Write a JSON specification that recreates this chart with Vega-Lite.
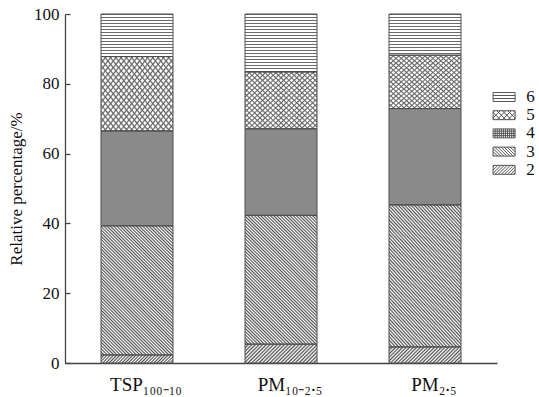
{
"$schema": "https://vega.github.io/schema/vega-lite/v6.json",
"width": 432, "height": 349,
"autosize": "none",
"padding": {"left": 65, "top": 14, "right": 42, "bottom": 34},
"background": "white",
"data": {"values": [
{"cat": "TSP₁₀₀₋₁₀", "series": "2", "value": 2.3},
{"cat": "TSP₁₀₀₋₁₀", "series": "3", "value": 37.0},
{"cat": "TSP₁₀₀₋₁₀", "series": "4", "value": 27.2},
{"cat": "TSP₁₀₀₋₁₀", "series": "5", "value": 21.3},
{"cat": "TSP₁₀₀₋₁₀", "series": "6", "value": 12.2},
{"cat": "PM₁₀₋₂.₅", "series": "2", "value": 5.4},
{"cat": "PM₁₀₋₂.₅", "series": "3", "value": 36.9},
{"cat": "PM₁₀₋₂.₅", "series": "4", "value": 24.8},
{"cat": "PM₁₀₋₂.₅", "series": "5", "value": 16.3},
{"cat": "PM₁₀₋₂.₅", "series": "6", "value": 16.6},
{"cat": "PM₂.₅", "series": "2", "value": 4.6},
{"cat": "PM₂.₅", "series": "3", "value": 40.7},
{"cat": "PM₂.₅", "series": "4", "value": 27.6},
{"cat": "PM₂.₅", "series": "5", "value": 15.3},
{"cat": "PM₂.₅", "series": "6", "value": 11.8}
]},
"transform": [{"stack": "value", "groupby": ["cat"], "sort": [{"field": "series", "order": "ascending"}], "as": ["y0", "y1"]}],
"encoding": {
"x": {"field": "cat", "type": "nominal", "sort": null, "scale": {"paddingInner": 0.5, "paddingOuter": 0.25},
 "axis": {"title": null, "labelAngle": 0, "ticks": false, "labelFontSize": 19, "labelPadding": 12, "labelOffset": 9, "domainWidth": 1.3}},
"y": {"field": "y1", "type": "quantitative", "scale": {"domain": [0, 100], "nice": false},
 "axis": {"title": "Relative percentage/%", "values": [0, 20, 40, 60, 80, 100], "tickSize": -5, "labelPadding": 11, "labelFontSize": 17, "titleFontSize": 17, "titleFontWeight": "normal", "titlePadding": 8, "domainWidth": 1.3, "tickWidth": 1.3}}
},
"layer": [
{"mark": {"type": "point", "filled": false, "size": 1, "color": "#555", "strokeWidth": 1},
 "encoding": {"y": {"field": "y0", "type": "quantitative"}, "shape": {"field": "series", "type": "nominal",
  "scale": {"domain": ["6", "5", "4", "3", "2"], "range": [
   "M-1.6,-0.65H1.6V0.65H-1.6ZM-1.6,-0.22H1.6M-1.6,0.22H1.6",
   "M-1.6,-0.65H1.6V0.65H-1.6ZM-1.6,0.4L-1.35,0.65M-1.6,-0.4L-0.55,0.65M-1.05,-0.65L0.25,0.65M-0.25,-0.65L1.05,0.65M0.55,-0.65L1.6,0.4M1.35,-0.65L1.6,-0.4M-1.6,-0.4L-1.35,-0.65M-1.6,0.4L-0.55,-0.65M-1.05,0.65L0.25,-0.65M-0.25,0.65L1.05,-0.65M0.55,0.65L1.6,-0.4M1.35,0.65L1.6,0.4",
   "M-1.6,-0.65H1.6V0.65H-1.6ZM-1.6,-0.325H1.6M-1.6,0H1.6M-1.6,0.325H1.6M-1.3,-0.65V0.65M-1,-0.65V0.65M-0.7,-0.65V0.65M-0.4,-0.65V0.65M-0.1,-0.65V0.65M0.2,-0.65V0.65M0.5,-0.65V0.65M0.8,-0.65V0.65M1.1,-0.65V0.65M1.4,-0.65V0.65",
   "M-1.6,-0.65H1.6V0.65H-1.6ZM-1.6,0.45L-1.4,0.65M-1.6,0L-0.95,0.65M-1.6,-0.45L-0.5,0.65M-1.35,-0.65L-0.05,0.65M-0.9,-0.65L0.4,0.65M-0.45,-0.65L0.85,0.65M0,-0.65L1.3,0.65M0.45,-0.65L1.6,0.5M0.9,-0.65L1.6,0.05M1.35,-0.65L1.6,-0.4",
   "M-1.6,-0.65H1.6V0.65H-1.6ZM-1.6,-0.4L-1.35,-0.65M-1.6,0.05L-0.9,-0.65M-1.6,0.5L-0.45,-0.65M-1.3,0.65L0,-0.65M-0.85,0.65L0.45,-0.65M-0.4,0.65L0.9,-0.65M0.05,0.65L1.35,-0.65M0.5,0.65L1.6,-0.45M0.95,0.65L1.6,0M1.4,0.65L1.6,0.45"
  ]},
  "legend": {"orient": "none", "legendX": 430.6, "legendY": 74.5, "title": null, "padding": 0,
   "symbolSize": 189, "symbolStrokeColor": "#555", "symbolStrokeWidth": 1, "symbolOpacity": 1,
   "labelFont": "Liberation Serif", "labelFontSize": 17, "labelColor": "#111", "labelOffset": 13.6, "rowPadding": 0.2}}}},
{"transform": [{"filter": "datum.series==='2'"}], "mark": {"type": "bar"},
 "encoding": {"y2": {"field": "y0"}, "fill": {"condition": [
  {"test": "datum.cat==='TSP₁₀₀₋₁₀'", "value": {"gradient": "linear", "x1": 0, "y1": 0, "x2": 1.0976, "y2": 0.122, "stops": [{"offset":0,"color":"#555"},{"offset":0.02,"color":"#fff"},{"offset":0.04,"color":"#555"},{"offset":0.06,"color":"#fff"},{"offset":0.08,"color":"#555"},{"offset":0.1,"color":"#fff"},{"offset":0.12,"color":"#555"},{"offset":0.14,"color":"#fff"},{"offset":0.16,"color":"#555"},{"offset":0.18,"color":"#fff"},{"offset":0.2,"color":"#555"},{"offset":0.22,"color":"#fff"},{"offset":0.24,"color":"#555"},{"offset":0.26,"color":"#fff"},{"offset":0.28,"color":"#555"},{"offset":0.3,"color":"#fff"},{"offset":0.32,"color":"#555"},{"offset":0.34,"color":"#fff"},{"offset":0.36,"color":"#555"},{"offset":0.38,"color":"#fff"},{"offset":0.4,"color":"#555"},{"offset":0.42,"color":"#fff"},{"offset":0.44,"color":"#555"},{"offset":0.46,"color":"#fff"},{"offset":0.48,"color":"#555"},{"offset":0.5,"color":"#fff"},{"offset":0.52,"color":"#555"},{"offset":0.54,"color":"#fff"},{"offset":0.56,"color":"#555"},{"offset":0.58,"color":"#fff"},{"offset":0.6,"color":"#555"},{"offset":0.62,"color":"#fff"},{"offset":0.64,"color":"#555"},{"offset":0.66,"color":"#fff"},{"offset":0.68,"color":"#555"},{"offset":0.7,"color":"#fff"},{"offset":0.72,"color":"#555"},{"offset":0.74,"color":"#fff"},{"offset":0.76,"color":"#555"},{"offset":0.78,"color":"#fff"},{"offset":0.8,"color":"#555"},{"offset":0.82,"color":"#fff"},{"offset":0.84,"color":"#555"},{"offset":0.86,"color":"#fff"},{"offset":0.88,"color":"#555"},{"offset":0.9,"color":"#fff"},{"offset":0.92,"color":"#555"},{"offset":0.94,"color":"#fff"},{"offset":0.96,"color":"#555"},{"offset":0.98,"color":"#fff"},{"offset":1,"color":"#555"}]}},
  {"test": "datum.cat==='PM₁₀₋₂.₅'", "value": {"gradient": "linear", "x1": 0, "y1": 0, "x2": 1.1806, "y2": 0.3083, "stops": [{"offset":0,"color":"#555"},{"offset":0.02,"color":"#fff"},{"offset":0.04,"color":"#555"},{"offset":0.06,"color":"#fff"},{"offset":0.08,"color":"#555"},{"offset":0.1,"color":"#fff"},{"offset":0.12,"color":"#555"},{"offset":0.14,"color":"#fff"},{"offset":0.16,"color":"#555"},{"offset":0.18,"color":"#fff"},{"offset":0.2,"color":"#555"},{"offset":0.22,"color":"#fff"},{"offset":0.24,"color":"#555"},{"offset":0.26,"color":"#fff"},{"offset":0.28,"color":"#555"},{"offset":0.3,"color":"#fff"},{"offset":0.32,"color":"#555"},{"offset":0.34,"color":"#fff"},{"offset":0.36,"color":"#555"},{"offset":0.38,"color":"#fff"},{"offset":0.4,"color":"#555"},{"offset":0.42,"color":"#fff"},{"offset":0.44,"color":"#555"},{"offset":0.46,"color":"#fff"},{"offset":0.48,"color":"#555"},{"offset":0.5,"color":"#fff"},{"offset":0.52,"color":"#555"},{"offset":0.54,"color":"#fff"},{"offset":0.56,"color":"#555"},{"offset":0.58,"color":"#fff"},{"offset":0.6,"color":"#555"},{"offset":0.62,"color":"#fff"},{"offset":0.64,"color":"#555"},{"offset":0.66,"color":"#fff"},{"offset":0.68,"color":"#555"},{"offset":0.7,"color":"#fff"},{"offset":0.72,"color":"#555"},{"offset":0.74,"color":"#fff"},{"offset":0.76,"color":"#555"},{"offset":0.78,"color":"#fff"},{"offset":0.8,"color":"#555"},{"offset":0.82,"color":"#fff"},{"offset":0.84,"color":"#555"},{"offset":0.86,"color":"#fff"},{"offset":0.88,"color":"#555"},{"offset":0.9,"color":"#fff"},{"offset":0.92,"color":"#555"},{"offset":0.94,"color":"#fff"},{"offset":0.96,"color":"#555"},{"offset":0.98,"color":"#fff"},{"offset":1,"color":"#555"}]}}],
  "value": {"gradient": "linear", "x1": 0, "y1": 0, "x2": 1.1653, "y2": 0.2606, "stops": [{"offset":0,"color":"#555"},{"offset":0.02,"color":"#fff"},{"offset":0.04,"color":"#555"},{"offset":0.06,"color":"#fff"},{"offset":0.08,"color":"#555"},{"offset":0.1,"color":"#fff"},{"offset":0.12,"color":"#555"},{"offset":0.14,"color":"#fff"},{"offset":0.16,"color":"#555"},{"offset":0.18,"color":"#fff"},{"offset":0.2,"color":"#555"},{"offset":0.22,"color":"#fff"},{"offset":0.24,"color":"#555"},{"offset":0.26,"color":"#fff"},{"offset":0.28,"color":"#555"},{"offset":0.3,"color":"#fff"},{"offset":0.32,"color":"#555"},{"offset":0.34,"color":"#fff"},{"offset":0.36,"color":"#555"},{"offset":0.38,"color":"#fff"},{"offset":0.4,"color":"#555"},{"offset":0.42,"color":"#fff"},{"offset":0.44,"color":"#555"},{"offset":0.46,"color":"#fff"},{"offset":0.48,"color":"#555"},{"offset":0.5,"color":"#fff"},{"offset":0.52,"color":"#555"},{"offset":0.54,"color":"#fff"},{"offset":0.56,"color":"#555"},{"offset":0.58,"color":"#fff"},{"offset":0.6,"color":"#555"},{"offset":0.62,"color":"#fff"},{"offset":0.64,"color":"#555"},{"offset":0.66,"color":"#fff"},{"offset":0.68,"color":"#555"},{"offset":0.7,"color":"#fff"},{"offset":0.72,"color":"#555"},{"offset":0.74,"color":"#fff"},{"offset":0.76,"color":"#555"},{"offset":0.78,"color":"#fff"},{"offset":0.8,"color":"#555"},{"offset":0.82,"color":"#fff"},{"offset":0.84,"color":"#555"},{"offset":0.86,"color":"#fff"},{"offset":0.88,"color":"#555"},{"offset":0.9,"color":"#fff"},{"offset":0.92,"color":"#555"},{"offset":0.94,"color":"#fff"},{"offset":0.96,"color":"#555"},{"offset":0.98,"color":"#fff"},{"offset":1,"color":"#555"}]}}}},
{"transform": [{"filter": "datum.series==='3'"}], "mark": {"type": "bar"},
 "encoding": {"y2": {"field": "y0"}, "fill": {"value": {"gradient": "linear", "x1": 0, "y1": 1, "x2": 0.6586, "y2": -0.1891, "stops": [{"offset":0,"color":"#555"},{"offset":0.008,"color":"#fff"},{"offset":0.016,"color":"#555"},{"offset":0.024,"color":"#fff"},{"offset":0.032,"color":"#555"},{"offset":0.04,"color":"#fff"},{"offset":0.048,"color":"#555"},{"offset":0.056,"color":"#fff"},{"offset":0.064,"color":"#555"},{"offset":0.072,"color":"#fff"},{"offset":0.08,"color":"#555"},{"offset":0.088,"color":"#fff"},{"offset":0.096,"color":"#555"},{"offset":0.104,"color":"#fff"},{"offset":0.112,"color":"#555"},{"offset":0.12,"color":"#fff"},{"offset":0.128,"color":"#555"},{"offset":0.136,"color":"#fff"},{"offset":0.144,"color":"#555"},{"offset":0.152,"color":"#fff"},{"offset":0.16,"color":"#555"},{"offset":0.168,"color":"#fff"},{"offset":0.176,"color":"#555"},{"offset":0.184,"color":"#fff"},{"offset":0.192,"color":"#555"},{"offset":0.2,"color":"#fff"},{"offset":0.208,"color":"#555"},{"offset":0.216,"color":"#fff"},{"offset":0.224,"color":"#555"},{"offset":0.232,"color":"#fff"},{"offset":0.24,"color":"#555"},{"offset":0.248,"color":"#fff"},{"offset":0.256,"color":"#555"},{"offset":0.264,"color":"#fff"},{"offset":0.272,"color":"#555"},{"offset":0.28,"color":"#fff"},{"offset":0.288,"color":"#555"},{"offset":0.296,"color":"#fff"},{"offset":0.304,"color":"#555"},{"offset":0.312,"color":"#fff"},{"offset":0.32,"color":"#555"},{"offset":0.328,"color":"#fff"},{"offset":0.336,"color":"#555"},{"offset":0.344,"color":"#fff"},{"offset":0.352,"color":"#555"},{"offset":0.36,"color":"#fff"},{"offset":0.368,"color":"#555"},{"offset":0.376,"color":"#fff"},{"offset":0.384,"color":"#555"},{"offset":0.392,"color":"#fff"},{"offset":0.4,"color":"#555"},{"offset":0.408,"color":"#fff"},{"offset":0.416,"color":"#555"},{"offset":0.424,"color":"#fff"},{"offset":0.432,"color":"#555"},{"offset":0.44,"color":"#fff"},{"offset":0.448,"color":"#555"},{"offset":0.456,"color":"#fff"},{"offset":0.464,"color":"#555"},{"offset":0.472,"color":"#fff"},{"offset":0.48,"color":"#555"},{"offset":0.488,"color":"#fff"},{"offset":0.496,"color":"#555"},{"offset":0.504,"color":"#fff"},{"offset":0.512,"color":"#555"},{"offset":0.52,"color":"#fff"},{"offset":0.528,"color":"#555"},{"offset":0.536,"color":"#fff"},{"offset":0.544,"color":"#555"},{"offset":0.552,"color":"#fff"},{"offset":0.56,"color":"#555"},{"offset":0.568,"color":"#fff"},{"offset":0.576,"color":"#555"},{"offset":0.584,"color":"#fff"},{"offset":0.592,"color":"#555"},{"offset":0.6,"color":"#fff"},{"offset":0.608,"color":"#555"},{"offset":0.616,"color":"#fff"},{"offset":0.624,"color":"#555"},{"offset":0.632,"color":"#fff"},{"offset":0.64,"color":"#555"},{"offset":0.648,"color":"#fff"},{"offset":0.656,"color":"#555"},{"offset":0.664,"color":"#fff"},{"offset":0.672,"color":"#555"},{"offset":0.68,"color":"#fff"},{"offset":0.688,"color":"#555"},{"offset":0.696,"color":"#fff"},{"offset":0.704,"color":"#555"},{"offset":0.712,"color":"#fff"},{"offset":0.72,"color":"#555"},{"offset":0.728,"color":"#fff"},{"offset":0.736,"color":"#555"},{"offset":0.744,"color":"#fff"},{"offset":0.752,"color":"#555"},{"offset":0.76,"color":"#fff"},{"offset":0.768,"color":"#555"},{"offset":0.776,"color":"#fff"},{"offset":0.784,"color":"#555"},{"offset":0.792,"color":"#fff"},{"offset":0.8,"color":"#555"},{"offset":0.808,"color":"#fff"},{"offset":0.816,"color":"#555"},{"offset":0.824,"color":"#fff"},{"offset":0.832,"color":"#555"},{"offset":0.84,"color":"#fff"},{"offset":0.848,"color":"#555"},{"offset":0.856,"color":"#fff"},{"offset":0.864,"color":"#555"},{"offset":0.872,"color":"#fff"},{"offset":0.88,"color":"#555"},{"offset":0.888,"color":"#fff"},{"offset":0.896,"color":"#555"},{"offset":0.904,"color":"#fff"},{"offset":0.912,"color":"#555"},{"offset":0.92,"color":"#fff"},{"offset":0.928,"color":"#555"},{"offset":0.936,"color":"#fff"},{"offset":0.944,"color":"#555"},{"offset":0.952,"color":"#fff"},{"offset":0.96,"color":"#555"},{"offset":0.968,"color":"#fff"},{"offset":0.976,"color":"#555"},{"offset":0.984,"color":"#fff"},{"offset":0.992,"color":"#555"},{"offset":1,"color":"#fff"}]}}}},
{"transform": [{"filter": "datum.series==='4'"}], "mark": {"type": "bar", "fill": "#8a8a8a"}, "encoding": {"y2": {"field": "y0"}}},
{"transform": [{"filter": "datum.series==='5'"}], "mark": {"type": "bar"},
 "encoding": {"y2": {"field": "y0"}, "fill": {"value": {"gradient": "linear", "x1": 0, "y1": 1, "x2": 1.082, "y2": 0.0984, "stops": [{"offset":0,"color":"#666"},{"offset":0.012,"color":"#fff"},{"offset":0.028,"color":"#fff"},{"offset":0.04,"color":"#666"},{"offset":0.052,"color":"#fff"},{"offset":0.068,"color":"#fff"},{"offset":0.08,"color":"#666"},{"offset":0.092,"color":"#fff"},{"offset":0.108,"color":"#fff"},{"offset":0.12,"color":"#666"},{"offset":0.132,"color":"#fff"},{"offset":0.148,"color":"#fff"},{"offset":0.16,"color":"#666"},{"offset":0.172,"color":"#fff"},{"offset":0.188,"color":"#fff"},{"offset":0.2,"color":"#666"},{"offset":0.212,"color":"#fff"},{"offset":0.228,"color":"#fff"},{"offset":0.24,"color":"#666"},{"offset":0.252,"color":"#fff"},{"offset":0.268,"color":"#fff"},{"offset":0.28,"color":"#666"},{"offset":0.292,"color":"#fff"},{"offset":0.308,"color":"#fff"},{"offset":0.32,"color":"#666"},{"offset":0.332,"color":"#fff"},{"offset":0.348,"color":"#fff"},{"offset":0.36,"color":"#666"},{"offset":0.372,"color":"#fff"},{"offset":0.388,"color":"#fff"},{"offset":0.4,"color":"#666"},{"offset":0.412,"color":"#fff"},{"offset":0.428,"color":"#fff"},{"offset":0.44,"color":"#666"},{"offset":0.452,"color":"#fff"},{"offset":0.468,"color":"#fff"},{"offset":0.48,"color":"#666"},{"offset":0.492,"color":"#fff"},{"offset":0.508,"color":"#fff"},{"offset":0.52,"color":"#666"},{"offset":0.532,"color":"#fff"},{"offset":0.548,"color":"#fff"},{"offset":0.56,"color":"#666"},{"offset":0.572,"color":"#fff"},{"offset":0.588,"color":"#fff"},{"offset":0.6,"color":"#666"},{"offset":0.612,"color":"#fff"},{"offset":0.628,"color":"#fff"},{"offset":0.64,"color":"#666"},{"offset":0.652,"color":"#fff"},{"offset":0.668,"color":"#fff"},{"offset":0.68,"color":"#666"},{"offset":0.692,"color":"#fff"},{"offset":0.708,"color":"#fff"},{"offset":0.72,"color":"#666"},{"offset":0.732,"color":"#fff"},{"offset":0.748,"color":"#fff"},{"offset":0.76,"color":"#666"},{"offset":0.772,"color":"#fff"},{"offset":0.788,"color":"#fff"},{"offset":0.8,"color":"#666"},{"offset":0.812,"color":"#fff"},{"offset":0.828,"color":"#fff"},{"offset":0.84,"color":"#666"},{"offset":0.852,"color":"#fff"},{"offset":0.868,"color":"#fff"},{"offset":0.88,"color":"#666"},{"offset":0.892,"color":"#fff"},{"offset":0.908,"color":"#fff"},{"offset":0.92,"color":"#666"},{"offset":0.932,"color":"#fff"},{"offset":0.948,"color":"#fff"},{"offset":0.96,"color":"#666"},{"offset":0.972,"color":"#fff"},{"offset":0.988,"color":"#fff"},{"offset":1,"color":"#666"}]}}}},
{"transform": [{"filter": "datum.series==='5'"}], "mark": {"type": "bar"},
 "encoding": {"y2": {"field": "y0"}, "fill": {"value": {"gradient": "linear", "x1": 0, "y1": 0, "x2": 1.082, "y2": 0.9016, "stops": [{"offset":0,"color":"#666"},{"offset":0.012,"color":"rgba(102,102,102,0)"},{"offset":0.028,"color":"rgba(102,102,102,0)"},{"offset":0.04,"color":"#666"},{"offset":0.052,"color":"rgba(102,102,102,0)"},{"offset":0.068,"color":"rgba(102,102,102,0)"},{"offset":0.08,"color":"#666"},{"offset":0.092,"color":"rgba(102,102,102,0)"},{"offset":0.108,"color":"rgba(102,102,102,0)"},{"offset":0.12,"color":"#666"},{"offset":0.132,"color":"rgba(102,102,102,0)"},{"offset":0.148,"color":"rgba(102,102,102,0)"},{"offset":0.16,"color":"#666"},{"offset":0.172,"color":"rgba(102,102,102,0)"},{"offset":0.188,"color":"rgba(102,102,102,0)"},{"offset":0.2,"color":"#666"},{"offset":0.212,"color":"rgba(102,102,102,0)"},{"offset":0.228,"color":"rgba(102,102,102,0)"},{"offset":0.24,"color":"#666"},{"offset":0.252,"color":"rgba(102,102,102,0)"},{"offset":0.268,"color":"rgba(102,102,102,0)"},{"offset":0.28,"color":"#666"},{"offset":0.292,"color":"rgba(102,102,102,0)"},{"offset":0.308,"color":"rgba(102,102,102,0)"},{"offset":0.32,"color":"#666"},{"offset":0.332,"color":"rgba(102,102,102,0)"},{"offset":0.348,"color":"rgba(102,102,102,0)"},{"offset":0.36,"color":"#666"},{"offset":0.372,"color":"rgba(102,102,102,0)"},{"offset":0.388,"color":"rgba(102,102,102,0)"},{"offset":0.4,"color":"#666"},{"offset":0.412,"color":"rgba(102,102,102,0)"},{"offset":0.428,"color":"rgba(102,102,102,0)"},{"offset":0.44,"color":"#666"},{"offset":0.452,"color":"rgba(102,102,102,0)"},{"offset":0.468,"color":"rgba(102,102,102,0)"},{"offset":0.48,"color":"#666"},{"offset":0.492,"color":"rgba(102,102,102,0)"},{"offset":0.508,"color":"rgba(102,102,102,0)"},{"offset":0.52,"color":"#666"},{"offset":0.532,"color":"rgba(102,102,102,0)"},{"offset":0.548,"color":"rgba(102,102,102,0)"},{"offset":0.56,"color":"#666"},{"offset":0.572,"color":"rgba(102,102,102,0)"},{"offset":0.588,"color":"rgba(102,102,102,0)"},{"offset":0.6,"color":"#666"},{"offset":0.612,"color":"rgba(102,102,102,0)"},{"offset":0.628,"color":"rgba(102,102,102,0)"},{"offset":0.64,"color":"#666"},{"offset":0.652,"color":"rgba(102,102,102,0)"},{"offset":0.668,"color":"rgba(102,102,102,0)"},{"offset":0.68,"color":"#666"},{"offset":0.692,"color":"rgba(102,102,102,0)"},{"offset":0.708,"color":"rgba(102,102,102,0)"},{"offset":0.72,"color":"#666"},{"offset":0.732,"color":"rgba(102,102,102,0)"},{"offset":0.748,"color":"rgba(102,102,102,0)"},{"offset":0.76,"color":"#666"},{"offset":0.772,"color":"rgba(102,102,102,0)"},{"offset":0.788,"color":"rgba(102,102,102,0)"},{"offset":0.8,"color":"#666"},{"offset":0.812,"color":"rgba(102,102,102,0)"},{"offset":0.828,"color":"rgba(102,102,102,0)"},{"offset":0.84,"color":"#666"},{"offset":0.852,"color":"rgba(102,102,102,0)"},{"offset":0.868,"color":"rgba(102,102,102,0)"},{"offset":0.88,"color":"#666"},{"offset":0.892,"color":"rgba(102,102,102,0)"},{"offset":0.908,"color":"rgba(102,102,102,0)"},{"offset":0.92,"color":"#666"},{"offset":0.932,"color":"rgba(102,102,102,0)"},{"offset":0.948,"color":"rgba(102,102,102,0)"},{"offset":0.96,"color":"#666"},{"offset":0.972,"color":"rgba(102,102,102,0)"},{"offset":0.988,"color":"rgba(102,102,102,0)"},{"offset":1,"color":"#666"}]}}}},
{"transform": [{"filter": "datum.series==='6'"}], "mark": {"type": "bar", "fill": "white"}, "encoding": {"y2": {"field": "y0"}}},
{"transform": [{"filter": "datum.series==='6'"}], "mark": {"type": "rule", "strokeWidth": 72, "strokeDash": [1, 2], "color": "#6b6b6b"}, "encoding": {"y2": {"field": "y0"}}},
{"mark": {"type": "bar", "fill": "transparent", "stroke": "#4d4d4d", "strokeWidth": 1}, "encoding": {"y2": {"field": "y0"}}}
],
"config": {
"view": {"stroke": null},
"font": "Liberation Serif",
"axis": {"labelFont": "Liberation Serif", "titleFont": "Liberation Serif", "labelColor": "#111", "titleColor": "#111", "domainColor": "#444", "tickColor": "#444", "grid": false}
}
}
